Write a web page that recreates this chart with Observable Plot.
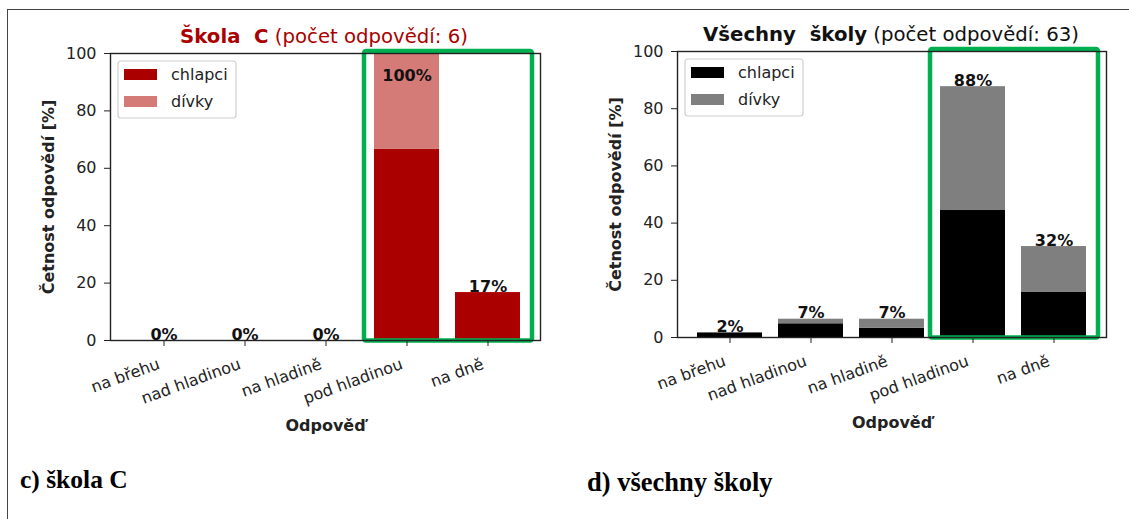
<!DOCTYPE html>
<html>
<head>
<meta charset="utf-8">
<script src="https://cdn.jsdelivr.net/npm/d3@7"></script>
<script src="https://cdn.jsdelivr.net/npm/@observablehq/plot@0.6"></script>
<style>
  html, body { margin: 0; padding: 0; background: #fff; }
  #page { position: relative; width: 1129px; height: 519px; overflow: hidden; background: #fff; }
  .border { position: absolute; left: 7px; top: 9px; right: -5px; bottom: -5px; border-top: 1.5px solid #444; border-left: 1.5px solid #444; }
  .chart { position: absolute; top: 0; }
  .title { position: absolute; font-family: "DejaVu Sans", sans-serif; font-size: 19.7px; line-height: 19.7px; white-space: pre; text-align: center; }
  .title b { font-weight: bold; }
  .caption { position: absolute; font-family: "Liberation Serif", "Times New Roman", serif; font-weight: bold; line-height: 26px; color: #000; white-space: pre; }
  svg g[aria-label="y-axis label"] text, svg g[aria-label="x-axis label"] text { font-weight: bold; }
</style>
</head>
<body>
<div id="page">
  <div class="border"></div>
</div>
<script>
// ---- data ----
const categories = ["na břehu", "nad hladinou", "na hladině", "pod hladinou", "na dně"];
const series = ["chlapci", "dívky"];

const skolaC_chlapci = [0, 0, 0, 66.7, 16.7];
const skolaC_divky   = [0, 0, 0, 33.3, 0];
const skolaC_labels  = ["0%", "0%", "0%", "100%", "17%"];
const skolaC_colors  = ["#aa0000", "#d47a77"];

const vsechny_chlapci = [1.6, 4.8, 3.2, 44.4, 15.9];
const vsechny_divky   = [0, 1.6, 3.2, 43.3, 15.9];
const vsechny_labels  = ["2%", "7%", "7%", "88%", "32%"];
const vsechny_colors  = ["#000000", "#7f7f7f"];

const highlighted = ["pod hladinou", "na dně"];

const yTicks = [0, 20, 40, 60, 80, 100];
const yLabel = "Četnost odpovědí [%]";
const xLabel = "Odpověď";

// ---- helpers ----
function legendMark(colors) {
  return (index, scales, values, dims) => {
    const g = d3.create("svg:g").attr("text-anchor", "start");
    const x0 = dims.marginLeft + 8, y0 = dims.marginTop + 8;
    g.append("rect").attr("x", x0).attr("y", y0).attr("width", 118).attr("height", 57)
      .attr("rx", 3).attr("fill", "#fff").attr("stroke", "#d0d0d0").attr("stroke-width", 1.2);
    series.forEach((s, i) => {
      const ry = y0 + 8 + i * 27;
      g.append("rect").attr("x", x0 + 6).attr("y", ry).attr("width", 33).attr("height", 11).attr("fill", colors[i]);
      g.append("text").attr("x", x0 + 53).attr("y", ry + 11).attr("font-size", 16).attr("fill", "#222").text(s);
    });
    return g.node();
  };
}

function highlightMark() {
  return (index, scales) => {
    const x = scales.x, y = scales.y;
    const bw = x.bandwidth();
    const left = x(highlighted[0]) - 10;
    const right = x(highlighted[highlighted.length - 1]) + bw + 12;
    const top = y(100) - 2;
    const bottom = y(0) + 0.5;
    const g = d3.create("svg:g");
    g.append("rect").attr("x", left).attr("y", top).attr("width", right - left).attr("height", bottom - top)
      .attr("fill", "none").attr("stroke", "#00b050").attr("stroke-width", 4.5).attr("rx", 2).attr("stroke-linejoin", "round");
    return g.node();
  };
}

function makeChart({chlapci, divky, labels, colors, width, marginRight, marginTop, marginBottom}) {
  const rows = [];
  categories.forEach((c, i) => {
    rows.push({cat: c, who: series[0], v: chlapci[i]});
    rows.push({cat: c, who: series[1], v: divky[i]});
  });
  const totals = categories.map((c, i) => ({cat: c, total: chlapci[i] + divky[i], label: labels[i]}));
  return Plot.plot({
    width, height: 519,
    marginLeft: 110, marginRight, marginTop, marginBottom,
    style: {fontFamily: "DejaVu Sans, sans-serif", fontSize: "16px", color: "#222", background: "transparent", overflow: "visible"},
    x: {domain: categories, paddingInner: 0.2, paddingOuter: 0.24, label: null},
    y: {domain: [0, 100], label: null},
    color: {domain: series, range: colors},
    marks: [
      Plot.barY(rows, {x: "cat", y: "v", fill: "who"}),
      Plot.text(totals, {x: "cat", y: d => Math.min(d.total, 90), text: "label", lineAnchor: "bottom", dy: -1, fontWeight: "bold", fontSize: 16, fill: "#111"}),
      highlightMark(),
      Plot.frame({stroke: "#222", strokeWidth: 1.4}),
      Plot.axisY({ticks: yTicks, tickSize: 6, tickPadding: 8, label: yLabel, labelAnchor: "center", labelOffset: 68, labelArrow: "none", fontSize: 16}),
      Plot.axisX({tickSize: 6, tickFormat: () => "", label: xLabel, labelAnchor: "center", labelOffset: 90, labelArrow: "none", fontSize: 16}),
      Plot.axisX({tickSize: 0, tickPadding: 23, dx: -5, tickRotate: -20, textAnchor: "end", label: null, fontSize: 16})
    ].concat([legendMark(colors)])
  });
}

const page = document.getElementById("page");

const c1 = makeChart({chlapci: skolaC_chlapci, divky: skolaC_divky, labels: skolaC_labels, colors: skolaC_colors,
  width: 560, marginRight: 20, marginTop: 53, marginBottom: 179});
c1.classList.add("chart"); c1.style.left = "0px";
page.appendChild(c1);

const c2 = makeChart({chlapci: vsechny_chlapci, divky: vsechny_divky, labels: vsechny_labels, colors: vsechny_colors,
  width: 562, marginRight: 23, marginTop: 51, marginBottom: 182});
c2.classList.add("chart"); c2.style.left = "567px";
page.appendChild(c2);

function addTitle(html, color, centerX, baseline) {
  const d = document.createElement("div");
  d.className = "title";
  d.innerHTML = html;
  d.style.color = color;
  d.style.left = (centerX - 300) + "px";
  d.style.width = "600px";
  d.style.top = (baseline - 16.5) + "px";
  page.appendChild(d);
}
addTitle("<b>Škola  C</b> (počet odpovědí: 6)", "#aa0000", 324, 43);
addTitle("<b>Všechny  školy</b> (počet odpovědí: 63)", "#111", 891, 41);

function addCaption(text, left, baseline, size) {
  const d = document.createElement("div");
  d.className = "caption";
  d.textContent = text;
  d.style.fontSize = size + "px";
  d.style.left = left + "px";
  d.style.top = (baseline - 20) + "px";
  page.appendChild(d);
}
addCaption("c) škola C", 20, 487, 25.5);
addCaption("d) všechny školy", 587, 489, 26.5);
</script>
</body>
</html>
